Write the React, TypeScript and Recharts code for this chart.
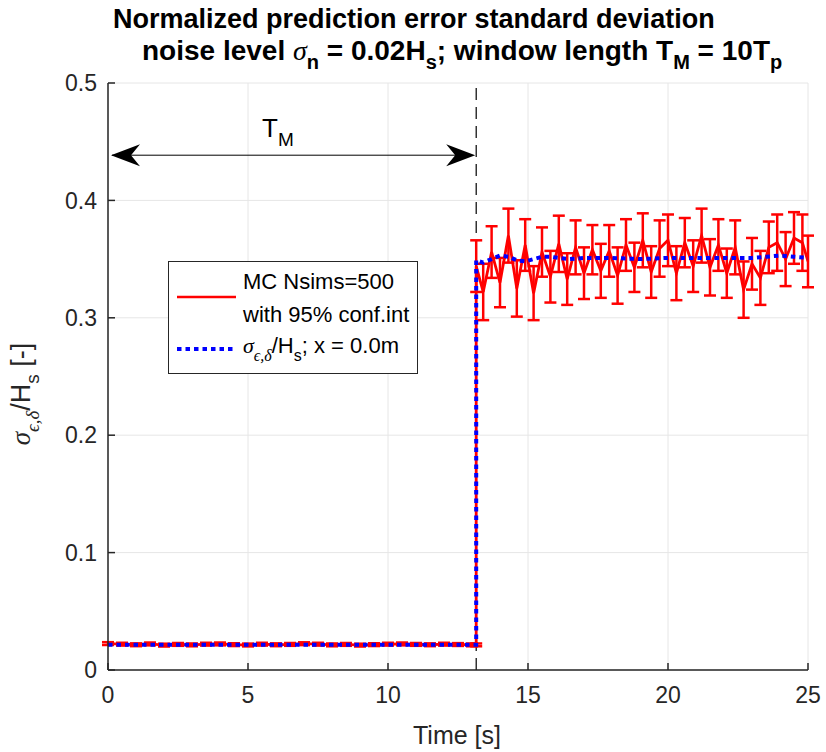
import React from 'react';
import {
  LineChart,
  Line,
  XAxis,
  YAxis,
  CartesianGrid,
  ErrorBar,
  ReferenceLine,
  Legend,
} from 'recharts';

// axis ticks
const xTicks = [0, 5, 10, 15, 20, 25];
const yTicks = [0, 0.1, 0.2, 0.3, 0.4, 0.5];

// Monte Carlo mean (Nsims=500) with 95% confidence half-width
const mcTime = [
  0, 0.5, 1, 1.5, 2, 2.5, 3, 3.5, 4, 4.5, 5, 5.5, 6, 6.5, 7, 7.5, 8, 8.5, 9, 9.5,
  10, 10.5, 11, 11.5, 12, 12.5, 13, 13.15,
  13.15, 13.4, 13.7, 14.0, 14.3, 14.6, 14.9, 15.2, 15.5, 15.8, 16.1, 16.4, 16.7,
  17.0, 17.3, 17.6, 17.9, 18.2, 18.5, 18.8, 19.1, 19.4, 19.7, 20.0, 20.3, 20.6,
  20.9, 21.2, 21.5, 21.8, 22.1, 22.4, 22.7, 23.0, 23.3, 23.6, 23.9, 24.2, 24.5,
  24.8, 25.0,
];
const mcMean = [
  0.0225, 0.022, 0.0215, 0.0222, 0.0212, 0.0218, 0.0214, 0.022, 0.0222, 0.0216,
  0.0213, 0.022, 0.0215, 0.0218, 0.0224, 0.022, 0.0214, 0.0218, 0.0212, 0.0216,
  0.022, 0.0222, 0.0218, 0.0215, 0.022, 0.0217, 0.0214, 0.0214,
  0.344, 0.322, 0.356, 0.33, 0.37, 0.325, 0.362, 0.321, 0.356, 0.335, 0.363,
  0.333, 0.36, 0.338, 0.358, 0.34, 0.357, 0.336, 0.362, 0.343, 0.366, 0.339,
  0.359, 0.366, 0.338, 0.364, 0.344, 0.37, 0.343, 0.362, 0.338, 0.36, 0.324,
  0.346, 0.334, 0.36, 0.364, 0.35, 0.368, 0.364, 0.348,
];
const mcErr = [
  0.0012, 0.0012, 0.0012, 0.0012, 0.0012, 0.0012, 0.0012, 0.0012, 0.0012, 0.0012,
  0.0012, 0.0012, 0.0012, 0.0012, 0.0012, 0.0012, 0.0012, 0.0012, 0.0012, 0.0012,
  0.0012, 0.0012, 0.0012, 0.0012, 0.0012, 0.0012, 0.0012, 0.0012,
  0.022, 0.024, 0.022, 0.021, 0.023, 0.024, 0.022, 0.023, 0.021, 0.022, 0.024,
  0.022, 0.023, 0.022, 0.021, 0.023, 0.022, 0.024, 0.022, 0.021, 0.023, 0.022,
  0.024, 0.022, 0.023, 0.021, 0.022, 0.023, 0.024, 0.022, 0.021, 0.023, 0.024,
  0.022, 0.023, 0.022, 0.024, 0.023, 0.022, 0.024, 0.022,
];

// theoretical normalized prediction error std at x = 0.0m
const thTime = [
  0, 13.15, 13.15, 13.4, 13.7, 14.0, 14.3, 14.6, 14.9, 15.2, 15.5, 15.8, 16.1,
  16.5, 17, 18, 19, 20, 21, 22, 23, 23.5, 24, 24.5, 25,
];
const thValue = [
  0.0215, 0.0215, 0.349, 0.347, 0.35, 0.353, 0.352, 0.349, 0.348, 0.35, 0.352,
  0.352, 0.351, 0.35, 0.351, 0.351, 0.35, 0.351, 0.351, 0.351, 0.351, 0.352,
  0.353, 0.352, 0.351,
];

// window length annotation
const windowEnd = 13.15;
const arrowLevel = 0.4385;

const mcData = mcTime.map((t, i) => ({ t, v: mcMean[i], e: mcErr[i] }));
const thData = thTime.map((t, i) => ({ t, v: thValue[i] }));

const AXIS = '#262626';
const FONT = '"Liberation Sans", Arial, Helvetica, sans-serif';
const SERIF = '"Liberation Serif", "Times New Roman", serif';

// double headed arrow for T_M
function ArrowShape(props: any) {
  const { x1, y1, x2 } = props;
  const y = y1;
  const mid = (x1 + x2) / 2;
  return (
    <g>
      <line x1={x1 + 4} y1={y} x2={x2 - 4} y2={y} stroke="#000" strokeWidth={1} />
      <path
        d={`M${x1 + 3},${y} L${x1 + 32},${y - 11} L${x1 + 23},${y} L${x1 + 32},${y + 11} Z`}
        fill="#000"
      />
      <path
        d={`M${x2 - 1},${y} L${x2 - 30},${y - 11} L${x2 - 21},${y} L${x2 - 30},${y + 11} Z`}
        fill="#000"
      />
      <text x={mid - 30} y={y - 18} fontSize={26} fontFamily={FONT} fill="#000">
        T<tspan fontSize={19} dy={9}>M</tspan>
      </text>
    </g>
  );
}

function renderLegend() {
  return (
    <svg width={250} height={113} style={{ display: 'block' }}>
      <rect x={0.5} y={0.5} width={249} height={112} fill="#fff" stroke={AXIS} strokeWidth={1} />
      <line x1={9} x2={68} y1={36} y2={36} stroke="#ff0000" strokeWidth={2.5} />
      <text x={75} y={28} fontSize={22} fontFamily={FONT} fill="#000">MC Nsims=500</text>
      <text x={75} y={61} fontSize={22} fontFamily={FONT} fill="#000">with 95% conf.int</text>
      <line
        x1={9}
        x2={68}
        y1={88}
        y2={88}
        stroke="#0000ff"
        strokeWidth={4}
        strokeDasharray="4.5 4"
      />
      <text x={75} y={92} fontSize={22} fontFamily={FONT} fill="#000">
        <tspan fontFamily={SERIF} fontStyle="italic">σ</tspan>
        <tspan fontFamily={SERIF} fontStyle="italic" fontSize={16} dy={8}>ϵ,δ</tspan>
        <tspan dy={-8}>/H</tspan>
        <tspan fontSize={16} dy={8}>s</tspan>
        <tspan dy={-8}>{'; x = 0.0m'}</tspan>
      </text>
    </svg>
  );
}

export default function App() {
  return (
    <div style={{ position: 'absolute', left: 0, top: 0, width: 826, height: 752, background: '#fff' }}>
      <LineChart
        width={826}
        height={752}
        margin={{ top: 83, right: 18, bottom: 42, left: 48 }}
        style={{ fontFamily: FONT }}
      >
        <CartesianGrid stroke="#e6e6e6" strokeWidth={1} />
        <XAxis
          dataKey="t"
          type="number"
          domain={[0, 25]}
          ticks={xTicks}
          allowDataOverflow
          height={40}
          tickSize={-7}
          tickMargin={24}
          axisLine={{ stroke: AXIS, strokeWidth: 1.5 }}
          tickLine={{ stroke: AXIS, strokeWidth: 1.5 }}
          tick={{ fill: AXIS, fontSize: 23, fontFamily: FONT }}
        />
        <XAxis
          xAxisId="top"
          orientation="top"
          dataKey="t"
          type="number"
          domain={[0, 25]}
          ticks={xTicks}
          height={0}
          tickSize={-7}
          axisLine={{ stroke: AXIS, strokeWidth: 1.5 }}
          tickLine={{ stroke: AXIS, strokeWidth: 1.5 }}
          tick={() => <g />}
        />
        <YAxis
          type="number"
          domain={[0, 0.5]}
          ticks={yTicks}
          allowDataOverflow
          width={60}
          tickSize={-7}
          tickMargin={18}
          axisLine={{ stroke: AXIS, strokeWidth: 1.5 }}
          tickLine={{ stroke: AXIS, strokeWidth: 1.5 }}
          tick={{ fill: AXIS, fontSize: 23, fontFamily: FONT }}
        />
        <YAxis
          yAxisId="right"
          orientation="right"
          type="number"
          domain={[0, 0.5]}
          ticks={yTicks}
          width={0}
          tickSize={-7}
          axisLine={{ stroke: AXIS, strokeWidth: 1.5 }}
          tickLine={{ stroke: AXIS, strokeWidth: 1.5 }}
          tick={() => <g />}
        />
        <ReferenceLine x={windowEnd} stroke="#000" strokeWidth={1.2} strokeDasharray="12 7" />
        <ReferenceLine
          segment={[
            { x: 0, y: arrowLevel },
            { x: windowEnd, y: arrowLevel },
          ]}
          shape={ArrowShape}
        />
        <Legend
          layout="vertical"
          align="center"
          verticalAlign="middle"
          content={renderLegend}
          wrapperStyle={{ left: 168, top: 261, width: 250, height: 113 }}
        />
        <Line
          data={mcData}
          dataKey="v"
          type="linear"
          stroke="#ff0000"
          strokeWidth={2.8}
          dot={false}
          activeDot={false}
          isAnimationActive={false}
        >
          <ErrorBar
            dataKey="e"
            direction="y"
            width={6}
            stroke="#ff0000"
            strokeWidth={2.5}
            isAnimationActive={false}
          />
        </Line>
        <Line
          data={thData}
          dataKey="v"
          type="linear"
          stroke="#0000ff"
          strokeWidth={4}
          strokeDasharray="4.5 4"
          dot={false}
          activeDot={false}
          isAnimationActive={false}
        />
      </LineChart>
      <svg
        width={826}
        height={752}
        style={{ position: 'absolute', left: 0, top: 0, pointerEvents: 'none' }}
      >
        <text x={113} y={28} fontSize={27} fontWeight="bold" fontFamily={FONT} fill="#000">
          Normalized prediction error standard deviation
        </text>
        <text x={142} y={60} fontSize={28} fontWeight="bold" fontFamily={FONT} fill="#000">
          {'noise level '}
          <tspan fontFamily={SERIF} fontStyle="italic" fontWeight="normal">σ</tspan>
          <tspan fontSize={20} dy={9}>n</tspan>
          <tspan dy={-9}>{' = 0.02H'}</tspan>
          <tspan fontSize={20} dy={9}>s</tspan>
          <tspan dy={-9}>{'; window length T'}</tspan>
          <tspan fontSize={20} dy={9}>M</tspan>
          <tspan dy={-9}>{' = 10T'}</tspan>
          <tspan fontSize={20} dy={9}>p</tspan>
        </text>
        <text x={457} y={744} fontSize={25} textAnchor="middle" fontFamily={FONT} fill={AXIS}>
          Time [s]
        </text>
        <text
          transform="translate(30,394) rotate(-90)"
          fontSize={27}
          textAnchor="middle"
          fontFamily={FONT}
          fill={AXIS}
        >
          <tspan fontFamily={SERIF} fontStyle="italic">σ</tspan>
          <tspan fontFamily={SERIF} fontStyle="italic" fontSize={19} dy={9}>ϵ,δ</tspan>
          <tspan dy={-9}>/H</tspan>
          <tspan fontSize={19} dy={9}>s</tspan>
          <tspan dy={-9}>{' [-]'}</tspan>
        </text>
      </svg>
    </div>
  );
}
